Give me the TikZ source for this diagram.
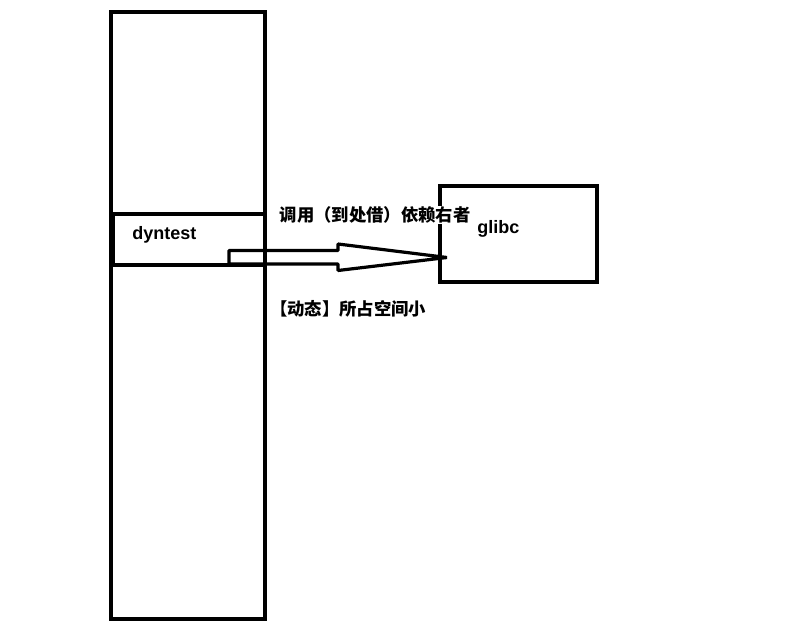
\documentclass[tikz,border=0pt]{standalone}
\usepackage{fontspec}
\setmainfont{Liberation Sans}
\newfontfamily\cjk{Noto Sans CJK SC}
\usetikzlibrary{positioning}
\tikzset{
    boxline/.style = {line width=2.4pt,draw=black},
    memlabel/.style = {inner sep=0pt,font=\bfseries\fontsize{13.5}{16}\selectfont,text=black},
    notelabel/.style = {inner sep=0pt,font=\cjk\bfseries\fontsize{13}{16}\selectfont,text=black},
    blockarrow/.style = {line width=2.4pt,draw=black,line join=bevel}
}
\begin{document}
\begin{tikzpicture}[x=0.75pt,y=-0.75pt]
  \useasboundingbox (0,0) rectangle (800,641);
  % process memory column
  \draw[boxline] (111,12) rectangle (265,619);
  \draw[boxline] (113,214) rectangle (265,265);
  \node[memlabel,anchor=base west] (dyntest) at (132,240) {dyntest};
  % shared library
  \draw[boxline] (440,186) rectangle (597,282);
  \node[memlabel,anchor=base west] (glibc) at (477,234) {glibc};
  % call arrow
  \coordinate (tail) at (229,257.5);
  \coordinate (tip) at (447,257.5);
  \draw[blockarrow] (tail) ++(0,-7) -- ++(109,0) -- ++(0,-6.5) -- (tip)
    -- ++(-109,13) -- ++(0,-6.5) -- ++(-109,0) -- cycle;
  \node[notelabel,anchor=west,fill=white,inner sep=0.5pt] (calls) at (279,215) {调用（到处借）依赖右者};
  \node[notelabel,anchor=west] (space) at (270,309) {【动态】所占空间小};
\end{tikzpicture}
\end{document}
